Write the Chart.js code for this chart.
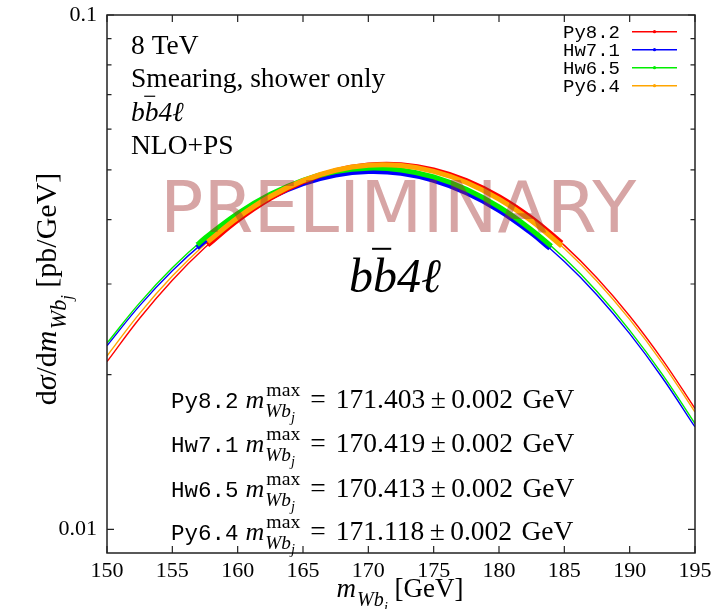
<!DOCTYPE html>
<html>
<head>
<meta charset="utf-8">
<script src="https://cdn.jsdelivr.net/npm/chart.js@4.4.1/dist/chart.umd.min.js"></script>
<style>
  html, body { margin: 0; padding: 0; background: #fff; }
  canvas { display: block; }
</style>
</head>
<body>
<canvas id="c" width="714" height="609"></canvas>
<script>
// m_Wbj spectra after smearing, shower-only variations
const massGeV = [150, 152.5, 155, 157.5, 160, 162.5, 165, 167.5, 170, 172.5, 175, 177.5, 180, 182.5, 185, 187.5, 190, 192.5, 195];
const py82 = [0.02119, 0.02574, 0.03052, 0.03533, 0.03991, 0.04402, 0.04739, 0.04980, 0.05109, 0.05116, 0.05000, 0.04767, 0.04435, 0.04026, 0.03566, 0.03082, 0.02600, 0.02139, 0.01718];
const hw71 = [0.02276, 0.02723, 0.03183, 0.03635, 0.04054, 0.04417, 0.04701, 0.04887, 0.04963, 0.04924, 0.04770, 0.04513, 0.04171, 0.03765, 0.03318, 0.02857, 0.02402, 0.01972, 0.01582];
const hw65 = [0.02302, 0.02757, 0.03225, 0.03685, 0.04112, 0.04482, 0.04772, 0.04962, 0.05039, 0.04999, 0.04844, 0.04583, 0.04235, 0.03822, 0.03369, 0.02900, 0.02438, 0.02002, 0.01606];
const py64 = [0.02174, 0.02631, 0.03108, 0.03585, 0.04037, 0.04438, 0.04764, 0.04991, 0.05105, 0.05097, 0.04968, 0.04726, 0.04388, 0.03977, 0.03518, 0.03038, 0.02560, 0.02106, 0.01691];

// fitted curves over the peak windows
const fitMassPy = [157.7, 160, 162.5, 165, 167.5, 170, 172.5, 175, 177.5, 180, 182.5, 184.8];
const fitPy82 = [0.03570, 0.03991, 0.04402, 0.04740, 0.04981, 0.05109, 0.05116, 0.05000, 0.04767, 0.04435, 0.04026, 0.03604];
const fitPy64 = [0.03623, 0.04037, 0.04438, 0.04764, 0.04991, 0.05105, 0.05097, 0.04968, 0.04726, 0.04388, 0.03977, 0.03556];
const fitMassHw71 = [156.9, 157.5, 160, 162.5, 165, 167.5, 170, 172.5, 175, 177.5, 180, 182.5, 183.9];
const fitHw71 = [0.03529, 0.03635, 0.04054, 0.04417, 0.04701, 0.04887, 0.04963, 0.04924, 0.04770, 0.04513, 0.04171, 0.03765, 0.03518];
const fitMassHw65 = [156.9, 157.5, 160, 162.5, 165, 167.5, 170, 172.5, 175, 177.5, 180, 182.5, 184.0];
const fitHw65 = [0.03576, 0.03685, 0.04112, 0.04482, 0.04772, 0.04962, 0.05039, 0.04999, 0.04844, 0.04583, 0.04235, 0.03822, 0.03553];

const generators = ['Py8.2', 'Hw7.1', 'Hw6.5', 'Py6.4'];
const peakMass = ['171.403', '170.419', '170.413', '171.118'];
const peakErr = ['0.002', '0.002', '0.002', '0.002'];

const xTickStep = 5;
const yTickValues = [0.01, 0.02, 0.03, 0.04, 0.05, 0.06, 0.07, 0.08, 0.09, 0.1];
const yMajorValues = [0.01, 0.1];
const yMajorLabels = ['0.01', '0.1'];

const COLORS = { 'Py8.2': '#ff0000', 'Hw7.1': '#0000ff', 'Hw6.5': '#00ee00', 'Py6.4': '#ffa500' };
const SERIF = '"Liberation Serif", "DejaVu Serif", serif';
const MONO = '"Liberation Mono", "DejaVu Sans Mono", monospace';

const pts = (xs, ys) => xs.map((x, i) => ({ x: x, y: ys[i] }));

function curve(label, xs, ys, width, order, inLegend) {
  return {
    label: label,
    data: pts(xs, ys),
    borderColor: COLORS[label],
    backgroundColor: COLORS[label],
    borderWidth: width,
    pointRadius: 0,
    tension: 0.4,
    fill: false,
    order: order,
    inLegend: inLegend
  };
}

const datasets = [
  curve('Py8.2', massGeV, py82, 1.4, 7, true),
  curve('Hw7.1', massGeV, hw71, 1.4, 6, true),
  curve('Hw6.5', massGeV, hw65, 1.4, 5, true),
  curve('Py6.4', massGeV, py64, 1.4, 4, true),
  curve('Hw7.1', fitMassHw71, fitHw71, 5, 3, false),
  curve('Py8.2', fitMassPy, fitPy82, 5, 2, false),
  curve('Hw6.5', fitMassHw65, fitHw65, 5, 1, false),
  curve('Py6.4', fitMassPy, fitPy64, 5, 0, false)
];

// ---- rich text helpers (italic, sub/superscripts, overbars) ----
function segWidth(ctx, s) {
  if (s.stack) return Math.max.apply(null, s.stack.map(g => runWidth(ctx, g)));
  ctx.font = s.font;
  return ctx.measureText(s.t).width + (s.pad || 0);
}
function runWidth(ctx, segs) {
  return segs.reduce((a, s) => a + segWidth(ctx, s), 0);
}
function drawRun(ctx, x, y, segs) {
  for (const s of segs) {
    if (s.stack) {
      for (const g of s.stack) drawRun(ctx, x, y, g);
      x += segWidth(ctx, s);
      continue;
    }
    ctx.font = s.font;
    const w = ctx.measureText(s.t).width;
    ctx.fillText(s.t, x, y + (s.dy || 0));
    if (s.bar) {
      const size = s.size;
      ctx.save();
      ctx.strokeStyle = ctx.fillStyle;
      ctx.lineWidth = Math.max(1.2, size * 0.042);
      ctx.beginPath();
      ctx.moveTo(x - w * 0.04, y + (s.dy || 0) - size * 0.9);
      ctx.lineTo(x + w * 0.76, y + (s.dy || 0) - size * 0.9);
      ctx.stroke();
      ctx.restore();
    }
    x += w + (s.pad || 0);
  }
  return x;
}
const it = (t, size, dy) => ({ t: t, font: 'italic ' + size + 'px ' + SERIF, size: size, dy: dy || 0 });
const rm = (t, size, dy) => ({ t: t, font: size + 'px ' + SERIF, size: size, dy: dy || 0 });
const mono = (t, size) => ({ t: t, font: size + 'px ' + MONO, size: size, dy: 0 });
const gap = (px) => ({ t: '', font: '10px ' + SERIF, size: 10, pad: px });
const bbar4l = (size) => [it('b', size), Object.assign(it('b', size), { bar: true }), it('4', size), it('\u2113', size)];
// m with subscript Wb_j (and optionally superscript "max")
const mWbj = (size, withMax) => {
  const sub = [gap(size * 0.04), it('Wb', size * 0.74, size * 0.34), it('j', size * 0.55, size * 0.54)];
  const grp = withMax
    ? { stack: [[gap(size * 0.08), rm('max', size * 0.76, -size * 0.46)], sub] }
    : { stack: [sub] };
  return [it('m', size), grp];
};
// "= value ± error GeV" with math-style spacing
const peakText = (val, err, size) => [
  rm('=', size), gap(size * 0.36), rm(val, size), gap(size * 0.2),
  rm('\u00b1', size), gap(size * 0.2), rm(err, size), gap(size * 0.34), rm('GeV', size)
];

const decor = {
  id: 'decor',
  beforeDraw(chart) {
    const ctx = chart.ctx;
    ctx.save();
    ctx.fillStyle = '#fff';
    ctx.fillRect(0, 0, chart.width, chart.height);
    ctx.restore();
  },
  afterDatasetsDraw(chart) {
    const ctx = chart.ctx;
    const a = chart.chartArea;
    const xs = chart.scales.x, ys = chart.scales.y;
    ctx.save();

    // watermark
    ctx.fillStyle = 'rgba(160, 40, 40, 0.42)';
    ctx.font = '72px "DejaVu Sans", sans-serif';
    ctx.textBaseline = 'alphabetic';
    ctx.textAlign = 'left';
    ctx.fillText('PRELIMINARY', 160, 232);

    // frame
    ctx.strokeStyle = '#222';
    ctx.lineWidth = 1.5;
    ctx.strokeRect(a.left, a.top, a.right - a.left, a.bottom - a.top);

    // inward ticks
    ctx.lineWidth = 1.2;
    ctx.beginPath();
    xs.ticks.forEach(t => {
      const px = xs.getPixelForValue(t.value);
      ctx.moveTo(px, a.bottom); ctx.lineTo(px, a.bottom - 7);
      ctx.moveTo(px, a.top); ctx.lineTo(px, a.top + 7);
    });
    ys.ticks.forEach(t => {
      const py = ys.getPixelForValue(t.value);
      const len = yMajorValues.some(v => Math.abs(v - t.value) < 1e-9) ? 7 : 4.5;
      ctx.moveTo(a.left, py); ctx.lineTo(a.left + len, py);
      ctx.moveTo(a.right, py); ctx.lineTo(a.right - len, py);
    });
    ctx.stroke();

    ctx.fillStyle = '#000';
    ctx.textAlign = 'left';
    ctx.textBaseline = 'alphabetic';

    // top-left notes
    drawRun(ctx, 131, 54, [rm('8 TeV', 27.5)]);
    drawRun(ctx, 131, 87, [rm('Smearing, shower only', 27.5)]);
    drawRun(ctx, 131, 121, bbar4l(27.5));
    drawRun(ctx, 131, 154, [rm('NLO+PS', 27.5)]);

    // central process label
    drawRun(ctx, 349, 292, bbar4l(48));

    // peak positions
    const rowY = [408, 452, 497, 540];
    generators.forEach((g, i) => {
      const segs = [mono(g, 22.5), gap(7)].concat(mWbj(26, true), [gap(10)],
        peakText(peakMass[i], peakErr[i], 27.5));
      drawRun(ctx, 171, rowY[i], segs);
    });

    // axis titles
    const xt = mWbj(27, false).concat([rm(' [GeV]', 27)]);
    drawRun(ctx, 400 - runWidth(ctx, xt) / 2, 597, xt);

    const yt = [rm('d', 30), it('\u03c3', 30), rm('/d', 30)].concat(mWbj(30, false), [rm(' [pb/GeV]', 30)]);
    ctx.save();
    ctx.translate(56, 289);
    ctx.rotate(-Math.PI / 2);
    drawRun(ctx, -runWidth(ctx, yt) / 2, 0, yt);
    ctx.restore();

    // legend
    const legendItems = chart.data.datasets.filter(d => d.inLegend);
    ctx.font = '19px ' + MONO;
    ctx.textAlign = 'right';
    ctx.textBaseline = 'middle';
    legendItems.forEach((d, i) => {
      const y = 31.7 + i * 18;
      ctx.fillStyle = '#000';
      ctx.fillText(d.label, 620, y + 1);
      ctx.strokeStyle = d.borderColor;
      ctx.lineWidth = 1.4;
      ctx.beginPath();
      ctx.moveTo(632, y); ctx.lineTo(677, y);
      ctx.stroke();
      ctx.fillStyle = d.borderColor;
      ctx.beginPath();
      ctx.arc(654.5, y, 1.6, 0, Math.PI * 2);
      ctx.fill();
    });
    ctx.restore();
  }
};

new Chart(document.getElementById('c'), {
  type: 'line',
  data: { datasets: datasets },
  options: {
    responsive: false,
    animation: false,
    devicePixelRatio: 1,
    layout: { padding: { top: 15, right: 19, left: 0, bottom: 0 } },
    plugins: { legend: { display: false }, tooltip: { enabled: false } },
    scales: {
      x: {
        type: 'linear', min: 150, max: 195,
        grid: { display: false, drawTicks: false },
        border: { display: false },
        ticks: {
          stepSize: xTickStep, autoSkip: false, maxRotation: 0, padding: 5,
          color: '#000', font: { family: SERIF, size: 22 },
          callback: v => String(v)
        },
        afterFit: s => { s.height = 56; s.paddingLeft = 0; s.paddingRight = 0; }
      },
      y: {
        type: 'logarithmic', min: 0.009, max: 0.1,
        grid: { display: false, drawTicks: false },
        border: { display: false },
        afterBuildTicks: s => { s.ticks = yTickValues.map(v => ({ value: v })); },
        ticks: {
          autoSkip: false, padding: 10, color: '#000',
          font: { family: SERIF, size: 22 },
          callback: v => {
            const k = yMajorValues.findIndex(m => Math.abs(m - v) < 1e-9);
            return k >= 0 ? yMajorLabels[k] : '';
          }
        },
        afterFit: s => { s.width = 107; s.paddingTop = 0; s.paddingBottom = 0; }
      }
    }
  },
  plugins: [decor]
});
</script>
</body>
</html>
